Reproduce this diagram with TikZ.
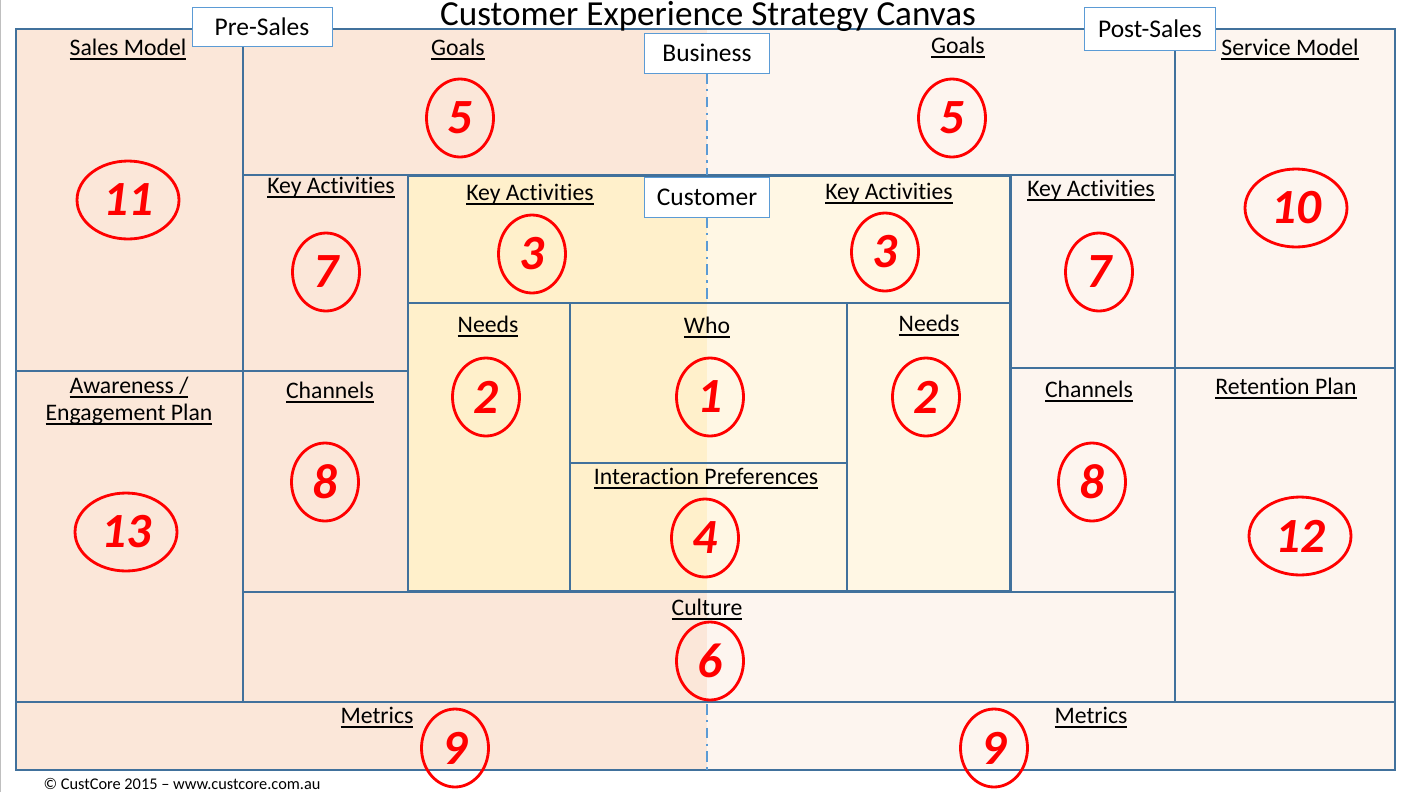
\documentclass[tikz,border=0pt]{standalone}
\usepackage{fontspec}
\setmainfont{Carlito}[Ligatures=NoCommon]
\usetikzlibrary{shapes.geometric}

\definecolor{preS}{HTML}{FBE7D9}
\definecolor{postS}{HTML}{FDF5EF}
\definecolor{preC}{HTML}{FFF0CB}
\definecolor{postC}{HTML}{FFF7E4}
\definecolor{lineB}{HTML}{41719C}
\definecolor{tagB}{HTML}{5B9BD5}

% underline with a fixed drop below the baseline
\newcommand\ulbl[1]{\setbox0\hbox{#1}\dp0=0pt\vtop{\copy0\kern1.7pt\hrule height 1.1pt width \wd0}}

\begin{document}
\begin{tikzpicture}[x=0.02cm, y=-0.02cm,
  lbl/.style={font=\fontsize{13.5}{15}\selectfont, inner sep=0pt, anchor=base},
  tag/.style={draw=tagB, fill=white, font=\fontsize{14.5}{16}\selectfont, inner sep=0pt, minimum width=2.5cm, minimum height=0.8cm},
  num/.style={ellipse, draw=red, line width=1.6pt, text=red, inner sep=0pt, minimum width=1.34cm, minimum height=1.56cm, font=\fontsize{28}{28}\selectfont\bfseries\itshape},
  numw/.style={num, minimum width=2.04cm, minimum height=1.56cm},
  thin/.style={draw=lineB, line width=0.6pt}]

\useasboundingbox (0,0) rectangle (1414,792);

\def\Xl{16}
\def\Xr{1395}
\def\Xmid{707}
\def\Ytop{29}
\def\Ybot{770}

% page edge
\draw[black!25, line width=1pt] (0.5,0) -- (0.5,792);

% background halves
\fill[preS] (\Xl,\Ytop) rectangle (\Xmid,\Ybot);
\fill[postS] (\Xmid,\Ytop) rectangle (\Xr,\Ybot);
\fill[preC] (408,175) rectangle (\Xmid,591);
\fill[postC] (\Xmid,175) rectangle (1010,591);

% grid
\draw[thin] (\Xl,\Ytop) rectangle (\Xr,\Ybot);
\draw[thin] (243,\Ytop) -- (243,702);
\draw[thin] (1175,\Ytop) -- (1175,702);
\draw[thin] (\Xl,371) -- (408,371);
\draw[thin] (1010,368) -- (\Xr,368);
\draw[thin] (243,175) -- (1175,175);
\draw[thin] (243,592) -- (1175,592);
\draw[thin] (\Xl,702) -- (\Xr,702);
\draw[thin] (408,303) -- (1010,303);
\draw[thin] (570,303) -- (570,591);
\draw[thin] (847,303) -- (847,591);
\draw[thin] (570,463) -- (847,463);
\draw[draw=lineB, line width=1.7pt] (408,175) rectangle (1010,591);

% dash-dot split
\tikzset{split/.style={draw=tagB, line width=1.6pt, dash pattern=on 6pt off 3pt on 1.5pt off 3pt}}
\draw[split] (\Xmid,73) -- (\Xmid,175);
\draw[split] (\Xmid,217) -- (\Xmid,303);
\draw[split] (\Xmid,704) -- (\Xmid,\Ybot);

% title and tags
\node[font=\fontsize{20}{22}\selectfont, inner sep=0pt, anchor=base] (title) at (708,25) {Customer Experience Strategy Canvas};
\node[tag, minimum width=2.8cm, minimum height=0.78cm] (presales) at (262,27) {Pre-Sales};
\node[tag, minimum width=2.62cm, minimum height=0.86cm] (postsales) at (1150,29) {Post-Sales};
\node[tag] (business) at (707,53) {Business};
\node[tag] (customer) at (707,197) {Customer};

% labels
\node[lbl] (salesmodel) at (128,55) {\ulbl{Sales Model}};
\node[lbl] (goalsL) at (458,55) {\ulbl{Goals}};
\node[lbl] (goalsR) at (958,53) {\ulbl{Goals}};
\node[lbl] (servicemodel) at (1290,55) {\ulbl{Service Model}};
\node[lbl] (keyactLo) at (331,193) {\ulbl{Key Activities}};
\node[lbl] (keyactLi) at (530,200) {\ulbl{Key Activities}};
\node[lbl] (keyactRi) at (889,199) {\ulbl{Key Activities}};
\node[lbl] (keyactRo) at (1091,196) {\ulbl{Key Activities}};
\node[lbl] (needsL) at (488,332) {\ulbl{Needs}};
\node[lbl] (who) at (707,333) {\ulbl{Who}};
\node[lbl] (needsR) at (929,331) {\ulbl{Needs}};
\node[lbl] (awareA) at (129,393) {\ulbl{Awareness /}};
\node[lbl] (awareB) at (129,420) {\ulbl{Engagement Plan}};
\node[lbl] (channelsL) at (330,398) {\ulbl{Channels}};
\node[lbl] (channelsR) at (1089,397) {\ulbl{Channels}};
\node[lbl] (retention) at (1286,394) {\ulbl{Retention Plan}};
\node[lbl] (interact) at (706,484) {\ulbl{Interaction Preferences}};
\node[lbl] (culture) at (707,615) {\ulbl{Culture}};
\node[lbl] (metricsL) at (377,723) {\ulbl{Metrics}};
\node[lbl] (metricsR) at (1091,723) {\ulbl{Metrics}};

% numbers
\node[numw] (n11) at (128,200) {11};
\node[num] (n5L) at (460,118) {5};
\node[num] (n5R) at (952,118) {5};
\node[numw] (n10) at (1296,208) {10};
\node[num] (n7L) at (326,272) {7};
\node[num] (n3L) at (532,254) {3};
\node[num] (n3R) at (885,252) {3};
\node[num] (n7R) at (1099,272) {7};
\node[num] (n2L) at (486,397) {2};
\node[num] (n1) at (710,397) {1};
\node[num] (n2R) at (926,397) {2};
\node[num] (n8L) at (325,482) {8};
\node[num] (n8R) at (1092,482) {8};
\node[numw] (n13) at (126,532) {13};
\node[numw] (n12) at (1300,536) {12};
\node[num] (n4) at (705,538) {4};
\node[num] (n6) at (710,661) {6};
\node[num] (n9L) at (455,748) {9};
\node[num] (n9R) at (994,748) {9};

\node[font=\fontsize{9.3}{11}\selectfont, inner sep=0pt] (copy) at (182,784) {© CustCore 2015 – www.custcore.com.au};

\end{tikzpicture}
\end{document}
